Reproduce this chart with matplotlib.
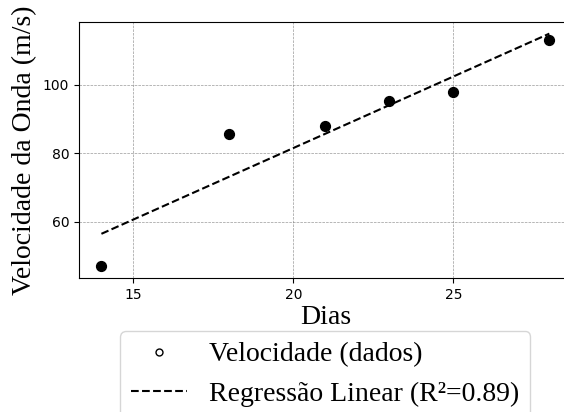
import numpy as np
import matplotlib
matplotlib.use("Agg")
import matplotlib.pyplot as plt
from matplotlib.lines import Line2D

dias = [14, 18, 21, 23, 25, 28]
velocidade = [46.9, 85.7, 87.9, 95.1, 97.7, 113.1]
x_ticks = [15, 20, 25]
y_ticks = [60, 80, 100]
r2_label = "0.89"

coef = np.polyfit(dias, velocidade, 1)
x_fit = np.array([min(dias), max(dias)])
y_fit = np.polyval(coef, x_fit)

fig = plt.figure(figsize=(5.64, 4.12), dpi=100)
ax = fig.add_axes([0.1401, 0.3252, 0.8736, 0.6214])

ax.scatter(dias, velocidade, s=50, color="black", zorder=3)
ax.plot(x_fit, y_fit, linestyle="--", color="black", linewidth=1.5, zorder=2)

ax.set_xticks(x_ticks)
ax.set_yticks(y_ticks)
ax.grid(True, linestyle="--", linewidth=0.5, color="gray", alpha=0.8)
ax.set_axisbelow(True)

serif = "Liberation Serif"
ax.set_xlabel("Dias", fontsize=20, family=serif, labelpad=2)
ax.set_ylabel("Velocidade da Onda (m/s)", fontsize=20, family=serif)

handles = [
    Line2D([], [], marker="o", linestyle="none", markerfacecolor="white",
           markeredgecolor="black", markersize=5),
    Line2D([], [], linestyle="--", color="black", linewidth=1.5),
]
labels = ["Velocidade (dados)", f"Regressão Linear (R²={r2_label})"]
ax.legend(handles, labels, loc="upper center", bbox_to_anchor=(0.5, -0.207),
          borderaxespad=0, prop={"family": serif, "size": 20}, frameon=True)

fig.savefig("out.png", dpi=100)
